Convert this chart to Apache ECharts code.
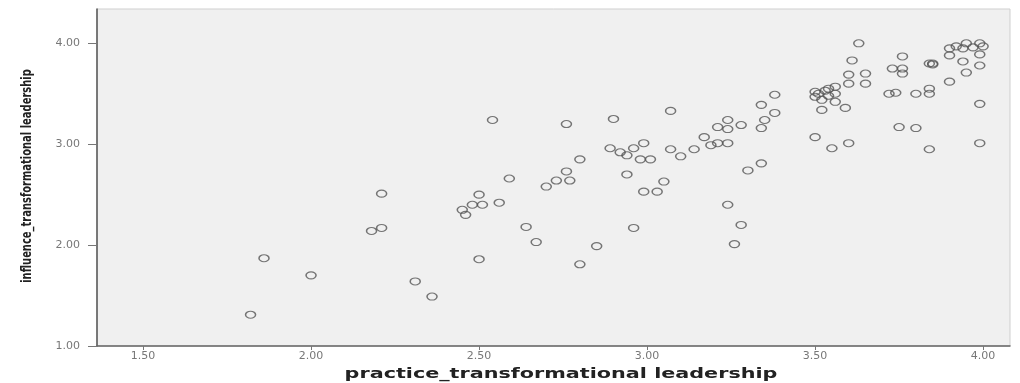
<!DOCTYPE html>
<html>
<head>
<meta charset="utf-8">
<script src="https://cdn.jsdelivr.net/npm/echarts@6/dist/echarts.min.js"></script>
<style>
html,body{margin:0;padding:0;background:#fff;}
#chart{width:1020px;height:383px;}
</style>
</head>
<body>
<div id="chart"></div>
<script>
const xTicks = [1.5, 2.0, 2.5, 3.0, 3.5, 4.0];
const yTicks = [1.0, 2.0, 3.0, 4.0];
const xName = 'practice_transformational leadership';
const yName = 'influence_transformational leadership';

const practice = [
  1.82, 1.86, 2.00, 2.21, 2.18, 2.21, 2.31, 2.36, 2.45, 2.46,
  2.48, 2.51, 2.50, 2.50, 2.56, 2.54, 2.59, 2.64, 2.67, 2.70,
  2.73, 2.77, 2.76, 2.80, 2.76, 2.80, 2.85, 2.90, 2.89, 2.92,
  2.94, 2.96, 2.98, 3.01, 2.99, 2.94, 2.96, 3.05, 2.99, 3.03,
  3.07, 3.07, 3.10, 3.14, 3.17, 3.19, 3.21, 3.24, 3.21, 3.24,
  3.24, 3.28, 3.24, 3.28, 3.26, 3.30, 3.34, 3.34, 3.35, 3.38,
  3.34, 3.38, 3.50, 3.50, 3.54, 3.54, 3.56, 3.56, 3.56, 3.52,
  3.52, 3.59, 3.50, 3.55, 3.60, 3.60, 3.65, 3.60, 3.65, 3.61,
  3.63, 3.72, 3.74, 3.80, 3.73, 3.76, 3.76, 3.76, 3.75, 3.80,
  3.84, 3.84, 3.84, 3.84, 3.85, 3.85, 3.90, 3.92, 3.95, 3.94,
  3.97, 3.99, 4.00, 3.90, 3.94, 3.95, 3.90, 3.99, 3.99, 3.99,
  3.99, 3.53, 3.51
];
const influence = [
  1.31, 1.87, 1.70, 2.51, 2.14, 2.17, 1.64, 1.49, 2.35, 2.30,
  2.40, 2.40, 2.50, 1.86, 2.42, 3.24, 2.66, 2.18, 2.03, 2.58,
  2.64, 2.64, 2.73, 2.85, 3.20, 1.81, 1.99, 3.25, 2.96, 2.92,
  2.89, 2.96, 2.85, 2.85, 3.01, 2.70, 2.17, 2.63, 2.53, 2.53,
  3.33, 2.95, 2.88, 2.95, 3.07, 2.99, 3.01, 3.01, 3.17, 3.24,
  3.15, 3.19, 2.40, 2.20, 2.01, 2.74, 2.81, 3.16, 3.24, 3.31,
  3.39, 3.49, 3.52, 3.47, 3.55, 3.48, 3.57, 3.50, 3.42, 3.44,
  3.34, 3.36, 3.07, 2.96, 3.01, 3.60, 3.60, 3.69, 3.70, 3.83,
  4.00, 3.50, 3.51, 3.50, 3.75, 3.75, 3.70, 3.87, 3.17, 3.16,
  3.55, 3.50, 2.95, 3.80, 3.80, 3.79, 3.95, 3.97, 4.00, 3.95,
  3.96, 4.00, 3.97, 3.88, 3.82, 3.71, 3.62, 3.89, 3.78, 3.40,
  3.01, 3.53, 3.50
];

const points = practice.map((v, i) => [v, influence[i]]);

const chart = echarts.init(document.getElementById('chart'), null, {renderer: 'canvas'});
chart.setOption({
  backgroundColor: '#ffffff',
  animation: false,
  grid: {
    left: 97, right: 10, top: 9, bottom: 37,
    show: true, backgroundColor: '#f0f0f0',
    borderColor: '#cfcfcf', borderWidth: 1
  },
  graphic: [
    {
      type: 'text', x: 561, y: 374, scaleX: 1.48, silent: true,
      style: {text: xName, fill: '#222', textAlign: 'center', textVerticalAlign: 'middle',
        font: 'bold 14px "DejaVu Sans"'}
    },
    {
      type: 'text', x: 27, y: 176, rotation: Math.PI / 2, scaleX: 0.71, silent: true,
      style: {text: yName, fill: '#222', textAlign: 'center', textVerticalAlign: 'middle',
        font: 'bold 14px "DejaVu Sans"'}
    }
  ],
  xAxis: {
    type: 'value', min: 1.363, max: 4.08,
    axisLine: {show: true, onZero: false, lineStyle: {color: '#666', width: 1.5}},
    axisTick: {show: true, length: 4, customValues: xTicks, lineStyle: {color: '#777'}},
    axisLabel: {customValues: xTicks, margin: 5, fontSize: 11, color: '#777', fontFamily: 'DejaVu Sans',
      formatter: v => v.toFixed(2)},
    splitLine: {show: false}
  },
  yAxis: {
    type: 'value', min: 1.0, max: 4.34,
    axisLine: {show: true, onZero: false, lineStyle: {color: '#555', width: 1.5}},
    axisTick: {show: true, length: 9, customValues: yTicks, lineStyle: {color: '#777'}},
    axisLabel: {customValues: yTicks, margin: 17, fontSize: 11, color: '#777', fontFamily: 'DejaVu Sans',
      formatter: v => v.toFixed(2)},
    splitLine: {show: false}
  },
  series: [{
    type: 'scatter',
    data: points,
    symbol: 'circle',
    symbolSize: [10, 7],
    itemStyle: {color: 'rgba(0,0,0,0)', borderColor: '#555', borderWidth: 1.3},
    emphasis: {disabled: true}
  }]
});
</script>
</body>
</html>
